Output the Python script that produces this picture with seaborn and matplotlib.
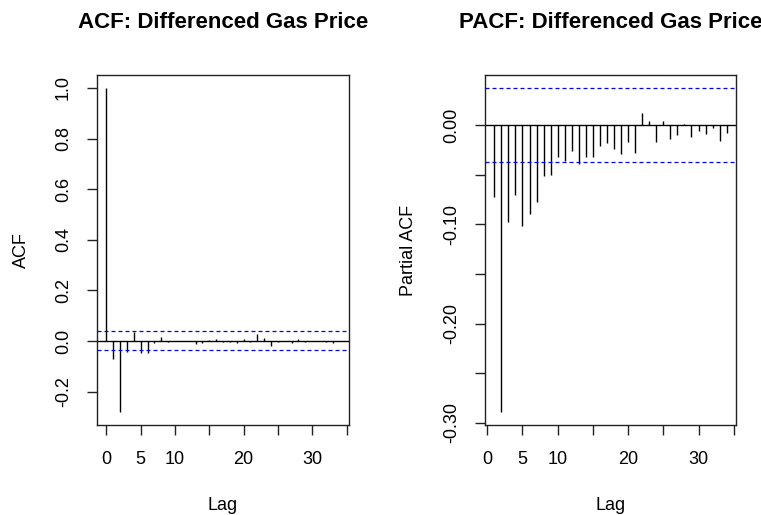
import numpy as np
import pandas as pd
import matplotlib
matplotlib.use("Agg")
import matplotlib.pyplot as plt
import seaborn as sns

# ACF / PACF of the differenced gas price series
acf_lags = list(range(0, 35))
acf_vals = [1.0, -0.071, -0.281, -0.042, 0.037, -0.046, -0.046, -0.009, 0.017, -0.004,
            0.0, 0.0, 0.0, -0.012, -0.008, 0.004, 0.006, -0.005, -0.006, -0.009,
            0.008, -0.005, 0.027, 0.010, -0.021, -0.003, 0.0, -0.008, 0.006, -0.004,
            0.0, 0.0, -0.005, -0.008, 0.0]

pacf_lags = list(range(1, 35))
pacf_vals = [-0.072, -0.289, -0.098, -0.070, -0.102, -0.090, -0.077, -0.051, -0.050, -0.032,
             -0.036, -0.026, -0.039, -0.032, -0.032, -0.021, -0.018, -0.024, -0.029, -0.017,
             -0.028, 0.012, 0.004, -0.017, 0.004, -0.014, -0.010, 0.001, -0.012, -0.006,
             -0.009, -0.003, -0.016, -0.008]

conf = 0.0374

acf_df = pd.DataFrame({"lag": acf_lags, "value": acf_vals})
pacf_df = pd.DataFrame({"lag": pacf_lags, "value": pacf_vals})

sns.set_style("ticks", {"axes.edgecolor": "#222222", "xtick.color": "#222222",
                        "ytick.color": "#222222", "text.color": "black",
                        "axes.labelcolor": "black"})
plt.rcParams["font.family"] = ["Liberation Sans", "DejaVu Sans"]

W, H = 761, 515
fig = plt.figure(figsize=(W / 100, H / 100), dpi=100)


def r_range(lo, hi):
    d = (hi - lo) * 0.04
    return lo - d, hi + d


def draw(box, df, title, ylab, yticks, yticklabels):
    x0, y0, x1, y1 = box
    ax = fig.add_axes([x0 / W, 1 - y1 / H, (x1 - x0) / W, (y1 - y0) / H])
    ax.vlines(df["lag"], 0, df["value"], color="black", lw=1.0)
    ax.axhline(0, color="black", lw=1.0)
    ax.axhline(conf, color="#0000FF", lw=0.9, ls=(0, (3.2, 2.4)))
    ax.axhline(-conf, color="#0000FF", lw=0.9, ls=(0, (3.2, 2.4)))
    ax.set_xlim(*r_range(df["lag"].min(), df["lag"].max()))
    ax.set_ylim(*r_range(min(df["value"].min(), -conf), max(df["value"].max(), conf)))

    ax.set_xticks(range(0, 36, 5))
    ax.set_xticklabels(["0", "5", "10", "", "20", "", "30", ""])
    ax.set_yticks(yticks)
    ax.set_yticklabels(yticklabels, rotation=90, va="center")
    for sp in ax.spines.values():
        sp.set_linewidth(1.0)
    ax.tick_params(axis="both", length=7, width=1.0, labelsize=13,
                   labelcolor="black")
    ax.tick_params(axis="x", pad=12)
    ax.tick_params(axis="y", pad=11)

    cx = (x0 + x1) / 2
    fig.text(cx / W, 1 - 22 / H, title, ha="center", va="center",
             fontsize=16, fontweight="bold")
    fig.text(cx / W, 1 - 505 / H, "Lag", ha="center", va="center", fontsize=13)
    fig.text((x0 - 76) / W, 1 - ((y0 + y1) / 2) / H, ylab, ha="center", va="center",
             rotation=90, fontsize=13)
    return ax


draw((97, 75, 349, 425), acf_df, "ACF: Differenced Gas Price", "ACF",
     [-0.2, 0.0, 0.2, 0.4, 0.6, 0.8, 1.0],
     ["-0.2", "0.0", "0.2", "0.4", "0.6", "0.8", "1.0"])
draw((485, 75, 736, 425), pacf_df, "PACF: Differenced Gas Price", "Partial ACF",
     [-0.30, -0.25, -0.20, -0.15, -0.10, -0.05, 0.00],
     ["-0.30", "", "-0.20", "", "-0.10", "", "0.00"])

fig.savefig("out.png", dpi=100)
